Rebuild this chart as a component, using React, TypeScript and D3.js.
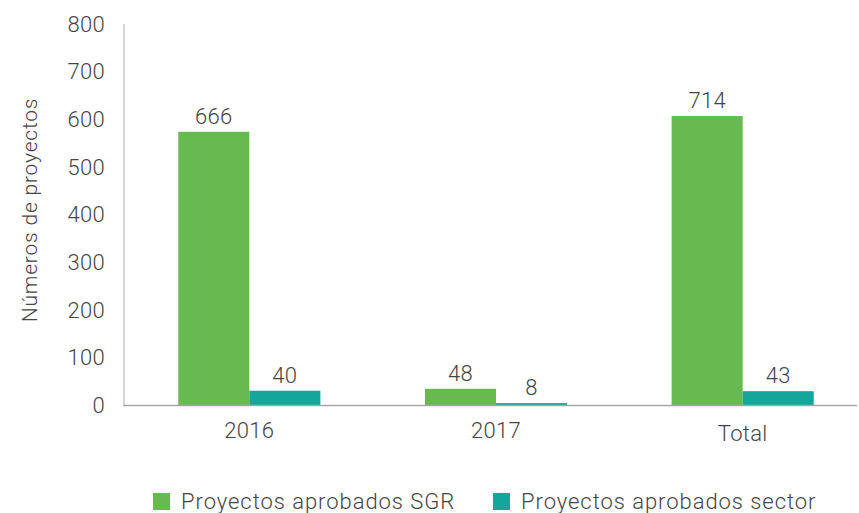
import React from "react";
import * as d3 from "d3";

const categories = ["2016", "2017", "Total"];
const seriesNames = ["Proyectos aprobados SGR", "Proyectos aprobados sector"];
// bar heights as drawn in the picture
const sgrBars = [574, 35, 607];
const sectorBars = [31, 5, 30];
// value labels printed above the bars
const sgrLabels = [666, 48, 714];
const sectorLabels = [40, 8, 43];
const yTicks = [0, 100, 200, 300, 400, 500, 600, 700, 800];

const COLORS = ["#66BA50", "#13A79B"];
const TEXT = "#454545";
const FONT = "Roboto, 'DejaVu Sans', sans-serif";
const WEIGHT = 300;

export default function App() {
  const W = 859;
  const H = 513;
  const x = d3
    .scaleBand<string>()
    .domain(categories)
    .range([126, 866])
    .paddingInner(0.424)
    .paddingOuter(0.212);
  const sub = d3.scaleBand<number>().domain([0, 1]).range([0, x.bandwidth()]);
  const y = d3.scaleLinear().domain([0, 800]).range([405.5, 24]);

  const series = [
    { bars: sgrBars, labels: sgrLabels },
    { bars: sectorBars, labels: sectorLabels },
  ];

  return (
    <div style={{ position: "absolute", left: 0, top: 0 }}>
      <svg width={W} height={H} style={{ display: "block", background: "#fff" }}>
        <line x1={124} x2={124} y1={y(800)} y2={y(0)} stroke="#c8c8c8" strokeWidth={1.5} />
        {yTicks.map((t) => (
          <text
            key={t}
            x={105}
            y={y(t)}
            textAnchor="end"
            dominantBaseline="central"
            fontFamily={FONT}
            fontWeight={WEIGHT}
            fontSize={22}
            letterSpacing={0.3}
            fill={TEXT}
          >
            {t}
          </text>
        ))}
        {series.map((s, si) =>
          categories.map((c, ci) => {
            const bx = (x(c) as number) + (sub(si) as number);
            const by = y(s.bars[ci]);
            return (
              <g key={`${si}-${ci}`}>
                <rect
                  x={bx}
                  y={by}
                  width={sub.bandwidth()}
                  height={y(0) - by}
                  fill={COLORS[si]}
                />
                <text
                  x={bx + sub.bandwidth() / 2}
                  y={by - 8}
                  textAnchor="middle"
                  fontFamily={FONT}
                  fontWeight={WEIGHT}
                  fontSize={22}
                  letterSpacing={0.3}
                  fill={TEXT}
                >
                  {s.labels[ci]}
                </text>
              </g>
            );
          })
        )}
        <line x1={123} x2={857} y1={y(0)} y2={y(0)} stroke="#a6a6a6" strokeWidth={1.5} />
        {categories.map((c) => (
          <text
            key={c}
            x={(x(c) as number) + x.bandwidth() / 2}
            y={c === "Total" ? 441 : 438}
            textAnchor="middle"
            fontFamily={FONT}
            fontWeight={WEIGHT}
            fontSize={22}
            letterSpacing={0.3}
            fill={TEXT}
          >
            {c}
          </text>
        ))}
        <text
          transform={`translate(37,${210}) rotate(-90)`}
          textAnchor="middle"
          fontFamily={FONT}
          fontWeight={WEIGHT}
          fontSize={21}
          letterSpacing={0.8}
          fill={TEXT}
        >
          Números de proyectos
        </text>
        {seriesNames.map((n, i) => {
          const lx = i === 0 ? 153 : 493;
          return (
            <g key={n}>
              <rect x={lx} y={493} width={17} height={17} fill={COLORS[i]} />
              <text
                x={lx + 28}
                y={509}
                fontFamily={FONT}
                fontWeight={WEIGHT}
                fontSize={22}
                letterSpacing={0.95}
                fill={TEXT}
              >
                {n}
              </text>
            </g>
          );
        })}
      </svg>
    </div>
  );
}
